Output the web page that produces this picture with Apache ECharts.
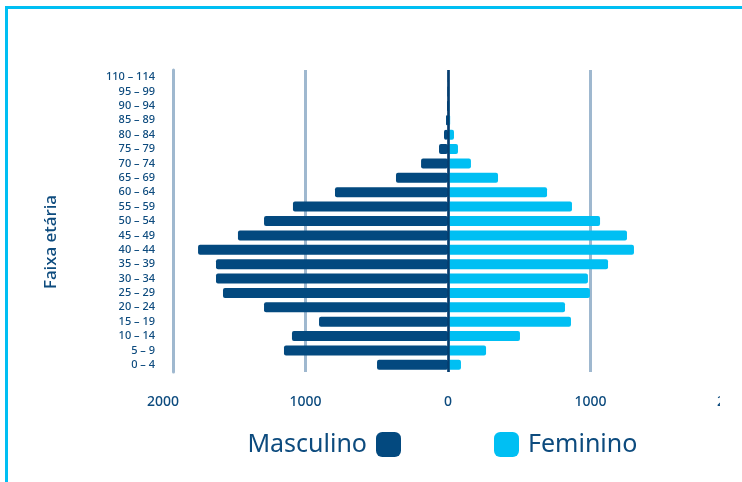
<!DOCTYPE html>
<html>
<head>
<meta charset="utf-8">
<script src="https://cdn.jsdelivr.net/npm/echarts@6/dist/echarts.min.js"></script>
<style>
  html, body { margin: 0; padding: 0; background: #fff; width: 742px; height: 482px; overflow: hidden; }
  #frame { position: absolute; left: 5px; top: 6px; width: 737px; height: 476px; border-top: 3px solid #00bff3; border-left: 3px solid #00bff3; box-sizing: border-box; }
  #clip { position: absolute; left: 0; top: 0; width: 720px; height: 482px; overflow: hidden; }
  #chart { position: absolute; left: 0; top: 0; width: 760px; height: 482px; }
</style>
</head>
<body>
<div id="frame"></div>
<div id="clip"><div id="chart"></div></div>
<script>
const ageGroups = ['0 – 4','5 – 9','10 – 14','15 – 19','20 – 24','25 – 29','30 – 34','35 – 39','40 – 44','45 – 49','50 – 54','55 – 59','60 – 64','65 – 69','70 – 74','75 – 79','80 – 84','85 – 89','90 – 94','95 – 99','110 – 114'];
const masculino = [498, 1151, 1095, 905, 1291, 1579, 1628, 1628, 1754, 1474, 1291, 1088, 793, 365, 189, 63, 28, 14, 7, 4, 2];
const feminino  = [91, 267, 505, 863, 821, 996, 982, 1123, 1305, 1256, 1067, 870, 695, 351, 161, 70, 42, 15, 10, 8, 3];
const xTicks = { min: -2000, max: 2000, interval: 1000 };

const textColor = '#0d4b7e';
const fontFamily = 'Noto Sans';
const chart = echarts.init(document.getElementById('chart'));
chart.setOption({
  animation: false,
  textStyle: { fontFamily: fontFamily },
  grid: { left: 163, right: 27, top: 70, bottom: 110, containLabel: false },
  legend: [
    { data: ['Masculino'], align: 'right', right: 359, top: 432, padding: 0, itemWidth: 25, itemHeight: 25, icon: 'roundRect', itemGap: 0,
      textStyle: { fontSize: 25, lineHeight: 25, color: textColor, fontFamily: fontFamily, padding: [0, 4, 0, 0] } },
    { data: ['Feminino'], align: 'left', left: 494, top: 432, padding: 0, itemWidth: 25, itemHeight: 25, icon: 'roundRect', itemGap: 0,
      textStyle: { fontSize: 25, lineHeight: 25, color: textColor, fontFamily: fontFamily, padding: [0, 0, 0, 4] } }
  ],
  xAxis: {
    type: 'value', min: xTicks.min, max: xTicks.max, interval: xTicks.interval,
    axisLine: { show: false }, axisTick: { show: false },
    axisLabel: { margin: 23, color: textColor, fontSize: 14, fontWeight: 500, formatter: v => String(Math.abs(v)) },
    splitLine: { show: true, showMinLine: false, lineStyle: { color: '#9fb8cf', width: 3 } }
  },
  yAxis: {
    type: 'category', data: ageGroups, offset: -10,
    name: 'Faixa etária', nameLocation: 'middle', nameGap: 113,
    nameTextStyle: { color: textColor, fontSize: 17, fontWeight: 500, padding: [0, 42, 0, 0] },
    axisLine: { show: true, onZero: false, lineStyle: { color: '#9fb8cf', width: 3 } },
    axisTick: { show: false },
    axisLabel: { margin: 18, color: textColor, fontSize: 11, fontWeight: 500, interval: 0 }
  },
  series: [
    { name: 'Masculino', type: 'bar', barWidth: 10, barGap: '-100%',
      data: masculino.map(v => -v),
      itemStyle: { color: '#03497f', borderRadius: 2 },
      markLine: { silent: true, symbol: 'none', label: { show: false },
        lineStyle: { color: '#063d6e', width: 2.5, type: 'solid' },
        data: [{ xAxis: 0 }] } },
    { name: 'Feminino', type: 'bar', barWidth: 10, barGap: '-100%',
      data: feminino,
      itemStyle: { color: '#00bff3', borderRadius: 2 } }
  ]
});
</script>
</body>
</html>
